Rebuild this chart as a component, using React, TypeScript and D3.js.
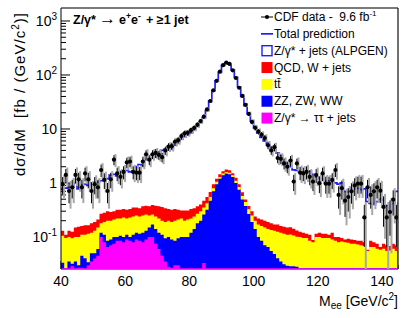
import React from "react";
import * as d3 from "d3";

// Bin lower edges (1 GeV/c^2 bins, 40 - 145)
const massBins: number[] = d3.range(40, 145);
const xTicks = [40, 60, 80, 100, 120, 140];
const yMajor = [0.1, 1, 10, 100, 1000];

// CDF data (fb / GeV/c^2)
const dataValues = [
  0.95, 1.41, 0.71, 0.83, 1.41, 1.17, 0.83, 1.5, 1.17, 0.71,
  0.95, 0.83, 1.74, 1.14, 0.71, 1.17, 2.7, 1.5, 1.3, 1.6,
  2.4, 2.5, 1.6, 1.55, 1.55, 2.5, 3.4, 2.7, 3.4, 3.6,
  3.3, 3.0, 4.0, 4.7, 4.8, 5.8, 6.2, 7.4, 8.3, 8.5,
  9.5, 10.5, 12, 14, 17, 23, 33, 52, 78, 115,
  152, 170, 160, 122, 88, 58, 41, 28, 19, 13.5,
  10.5, 8.9, 7.8, 6.8, 5.0, 4.0, 4.6, 2.9, 2.8, 2.3,
  2.0, 2.6, 1.06, 2.3, 1.55, 1.5, 1.6, 1.3, 1.06, 1.4,
  0.99, 1.5, 0.97, 0.97, 1.14, 1.74, 0.6, 0.8, 0.47, 0.55,
  0.7, 0.9, 0.97, 0.97, 0.23, 0.83, 0.6, 0.7, 0.83, 0.72,
  0.36, 0.23, 0.29, 0.49, 0.23,
];

// Total prediction
const totalPrediction = [
  0.76, 0.8, 0.83, 0.85, 1.0, 0.78, 0.92, 0.95, 0.9, 1.0,
  1.02, 1.05, 1.1, 1.2, 1.2, 1.4, 1.45, 1.35, 1.3, 1.55,
  1.7, 1.6, 1.65, 2.0, 2.2, 2.1, 2.7, 2.8, 2.9, 3.0,
  3.5, 4.0, 4.2, 4.1, 4.4, 5.0, 5.8, 6.5, 7.2, 7.8,
  8.5, 9.8, 11.5, 13.5, 16, 22, 33, 52, 78, 112,
  150, 168, 158, 125, 90, 60, 40, 27, 19, 14,
  10.5, 8.5, 7.0, 6.0, 5.2, 4.6, 4.0, 3.6, 3.2, 2.4,
  2.3, 2.0, 1.75, 1.7, 1.6, 1.6, 1.55, 1.65, 1.45, 1.3,
  1.2, 1.2, 1.1, 1.1, 1.05, 1.0, 0.95, 1.0, 0.7, 0.68,
  0.8, 0.78, 0.8, 0.75, 0.78, 0.45, 0.42, 0.4, 0.45, 0.5,
  0.48, 0.38, 0.3, 0.42, 0.7,
];

// Z/gamma* -> tau tau + jets
const zttValues = [
  0.0262, 0.0262, 0.0262, 0.029, 0.0262, 0.027, 0.027, 0.0262, 0.03, 0.035,
  0.04, 0.045, 0.1, 0.08, 0.065, 0.07, 0.075, 0.085, 0.085, 0.08,
  0.09, 0.085, 0.08, 0.09, 0.085, 0.08, 0.09, 0.1, 0.1, 0.075,
  0.06, 0.045, 0.035, 0.028, 0.027, 0.03, 0.03, 0.0262, 0.0262, 0.0262,
  0.0262, 0.0262, 0.0262, 0.0262, 0.033, 0.0262, 0.0262, 0.0262, 0.0262, 0.0262,
  0.0262, 0.0262, 0.0262, 0.0262, 0.0262, 0.0262, 0.0262, 0.0262, 0.0262, 0.0262,
  0.0262, 0.0262, 0.0262, 0.0262, 0.0262, 0.0262, 0.0262, 0.0262, 0.0262, 0.0262,
  0.0262, 0.0262, 0.0262, 0.0262, 0.0262, 0.0262, 0.0262, 0.0262, 0.0262, 0.0262,
  0.0262, 0.0262, 0.0262, 0.0262, 0.0262, 0.0262, 0.0262, 0.0262, 0.0262, 0.0262,
  0.0262, 0.0262, 0.0262, 0.0262, 0.0262, 0.0262, 0.0262, 0.0262, 0.0262, 0.0262,
  0.0262, 0.0262, 0.0262, 0.0262, 0.0262,
];

// ZZ, ZW, WW
const dibosonValues = [
  0.007, 0, 0.009, 0.003, 0.009, 0.003, 0.018, 0.014, 0.004, 0.015,
  0.01, 0.015, 0.02, 0.03, 0.02, 0.02, 0.025, 0.015, 0.02, 0.02,
  0.02, 0.015, 0.03, 0.03, 0.03, 0.04, 0.04, 0.05, 0.07, 0.065,
  0.06, 0.065, 0.06, 0.072, 0.063, 0.055, 0.065, 0.074, 0.074, 0.074,
  0.094, 0.114, 0.154, 0.174, 0.227, 0.294, 0.444, 0.674, 0.924, 1.17,
  1.37, 1.47, 1.42, 1.27, 0.97, 0.72, 0.47, 0.35, 0.24, 0.164,
  0.114, 0.074, 0.059, 0.044, 0.039, 0.029, 0.022, 0.014, 0.009, 0.005,
  0.003, 0.0025, 0.0025, 0.002, 0, 0, 0, 0, 0, 0,
  0, 0, 0, 0, 0, 0, 0, 0, 0, 0,
  0, 0, 0, 0, 0, 0, 0, 0, 0, 0,
  0, 0, 0, 0, 0,
];

// t tbar
const ttbarValues = [
  0.072, 0.069, 0.065, 0.063, 0.065, 0.07, 0.065, 0.07, 0.081, 0.07,
  0.08, 0.09, 0.06, 0.08, 0.115, 0.11, 0.11, 0.12, 0.115, 0.13,
  0.11, 0.13, 0.13, 0.13, 0.125, 0.13, 0.13, 0.1, 0.09, 0.1,
  0.1, 0.09, 0.095, 0.1, 0.1, 0.115, 0.115, 0.12, 0.1, 0.11,
  0.1, 0.1, 0.09, 0.1, 0.09, 0.1, 0.08, 0.1, 0.1, 0.1,
  0.1, 0.1, 0.1, 0.1, 0.1, 0.1, 0.08, 0.07, 0.06, 0.06,
  0.06, 0.07, 0.075, 0.08, 0.075, 0.08, 0.082, 0.085, 0.085, 0.084,
  0.081, 0.082, 0.078, 0.073, 0.074, 0.069, 0.069, 0.059, 0.054, 0.074,
  0.074, 0.069, 0.069, 0.069, 0.064, 0.059, 0.054, 0.056, 0.054, 0.052,
  0.049, 0.049, 0.046, 0.044, 0.042, 0.029, 0.039, 0.039, 0.034, 0.032,
  0.034, 0.029, 0.03, 0.034, 0.029,
];

// QCD, W + jets
const qcdValues = [
  0.025, 0.015, 0.03, 0.03, 0.05, 0.055, 0.05, 0.055, 0.05, 0.06,
  0.06, 0.06, 0.09, 0.09, 0.1, 0.09, 0.09, 0.1, 0.1, 0.1,
  0.1, 0.1, 0.11, 0.1, 0.1, 0.12, 0.12, 0.12, 0.13, 0.14,
  0.15, 0.16, 0.15, 0.13, 0.13, 0.13, 0.11, 0.09, 0.11, 0.1,
  0.11, 0.1, 0.1, 0.1, 0.12, 0.13, 0.13, 0.15, 0.15, 0.15,
  0.15, 0.18, 0.17, 0.12, 0.15, 0.1, 0.1, 0.05, 0.05, 0.05,
  0.04, 0.05, 0.05, 0.05, 0.05, 0.045, 0.04, 0.045, 0.04, 0.04,
  0.04, 0.04, 0.035, 0.03, 0.025, 0.025, 0.02, 0.025, 0.008, 0.015,
  0.02, 0.02, 0.02, 0.015, 0.03, 0.015, 0.02, 0.013, 0.01, 0.014,
  0.015, 0.013, 0.013, 0.015, 0.012, 0.003, 0.02, 0.015, 0.015, 0.007,
  0.015, 0.015, 0.012, 0.015, 0.015,
];

const layerKeys = ["ztt", "dib", "tt", "qcd"];
const layerColors: Record<string, string> = {
  ztt: "#ff00ff",
  dib: "#0000ff",
  tt: "#ffff00",
  qcd: "#ff0000",
};

const legendEntries = [
  { kind: "data", label: "CDF data -  9.6 fb", sup: "-1" },
  { kind: "line", label: "Total prediction" },
  { kind: "open", label: "Z/γ* + jets (ALPGEN)" },
  { kind: "fill", color: "#ff0000", label: "QCD, W + jets" },
  { kind: "fill", color: "#ffff00", label: "tt̄" },
  { kind: "fill", color: "#0000ff", label: "ZZ, ZW, WW" },
  { kind: "fill", color: "#ff00ff", label: "Z/γ* → ττ + jets" },
];

const FONT = "'Liberation Sans', Arial, Helvetica, sans-serif";
const W = 411;
const H = 318;
const L = 61, R = 398, T = 8, B = 269;
const LINE_BLUE = "#1e1eff";

export default function App() {
  const x = d3.scaleLinear().domain([40, 145]).range([L, R]);
  const y = d3.scaleLog().domain([0.0255, 1740]).range([B, T]);
  const yc = (v: number) => (v <= 0.0255 ? B : Math.max(T - 4, y(v)));

  const rows = massBins.map((m, i) => ({
    m,
    ztt: zttValues[i] ?? 0,
    dib: dibosonValues[i] ?? 0,
    tt: ttbarValues[i] ?? 0,
    qcd: qcdValues[i] ?? 0,
  }));
  const series = d3.stack<any>().keys(layerKeys)(rows);
  const edges = [...massBins, 145];

  const area = d3
    .area<[number, number]>()
    .x((_, i) => x(edges[i]))
    .y0(B)
    .y1((d) => yc(d[1]))
    .curve(d3.curveStepAfter);

  const totalLine = d3
    .line<number>()
    .x((_, i) => x(edges[i]))
    .y((v) => yc(v))
    .curve(d3.curveStepAfter);
  const totalPts = [...totalPrediction, totalPrediction[totalPrediction.length - 1]];

  const yMinor: number[] = [];
  for (let d = -2; d <= 3; d++) {
    for (let k = 2; k <= 9; k++) {
      const v = k * Math.pow(10, d);
      if (v > 0.0255 && v < 1740) yMinor.push(v);
    }
  }
  const xMinor = d3.range(40, 146, 5).filter((v) => v % 20 !== 0);

  const yLabel = (v: number) => {
    if (v === 1) return <tspan>1</tspan>;
    if (v === 10) return <tspan>10</tspan>;
    const e = Math.round(Math.log10(v));
    return (
      <>
        <tspan>10</tspan>
        <tspan dy={-6} fontSize={10}>{String(e)}</tspan>
      </>
    );
  };

  const legY = (i: number) => 17 + i * 16.85;

  return (
    <svg
      width={W}
      height={H}
      style={{ position: "absolute", left: 0, top: 0, background: "#fff" }}
      fontFamily={FONT}
    >
      <defs>
        <clipPath id="plotclip">
          <rect x={L} y={T} width={R - L} height={B - T} />
        </clipPath>
      </defs>
      <rect x={0} y={0} width={W} height={H} fill="#fff" />

      {/* axis ticks (drawn under fills) */}
      {yMajor.map((v) => (
        <line key={"ym" + v} x1={L} x2={L + 9} y1={y(v)} y2={y(v)} stroke="#000" strokeWidth={1} />
      ))}
      {yMinor.map((v) => (
        <line key={"yn" + v} x1={L} x2={L + 5} y1={y(v)} y2={y(v)} stroke="#000" strokeWidth={1} />
      ))}
      {xTicks.map((v) => (
        <line key={"xm" + v} x1={x(v)} x2={x(v)} y1={B} y2={B - 8} stroke="#000" />
      ))}
      {xMinor.map((v) => (
        <line key={"xn" + v} x1={x(v)} x2={x(v)} y1={B} y2={B - 4} stroke="#000" />
      ))}
      <line x1={L} x2={R} y1={B} y2={B} stroke="#000" />

      {/* stacked backgrounds */}
      <g clipPath="url(#plotclip)">
        {series
          .slice()
          .reverse()
          .map((s) => {
            const pts = [...s.map((d) => [d[0], d[1]] as [number, number])];
            pts.push(pts[pts.length - 1]);
            return (
              <path key={s.key} d={area(pts) || ""} fill={layerColors[s.key]} stroke="none" />
            );
          })}

        {/* total prediction */}
        <path d={totalLine(totalPts) || ""} fill="none" stroke={LINE_BLUE} strokeWidth={1.7} />

        {/* data: grey (total) and black (stat) error bars */}
        {dataValues.map((v, i) => {
          const cx = x(massBins[i] + 0.5);
          const err = Math.sqrt(v / 8.5);
          const eg = err * 1.3;
          return (
            <g key={"d" + i}>
              <line
                x1={cx + 1.5}
                x2={cx + 1.5}
                y1={yc(v + eg)}
                y2={yc(Math.max(v - eg, v * 0.04))}
                stroke="#a8a8a8"
                strokeWidth={2}
              />
              <line
                x1={cx}
                x2={cx}
                y1={yc(v + err)}
                y2={yc(Math.max(v - err, v * 0.05))}
                stroke="#000"
                strokeWidth={1}
              />
              <circle cx={cx} cy={y(v)} r={2.1} fill="#000" />
            </g>
          );
        })}
      </g>

      {/* frame */}
      <line x1={L} x2={R} y1={T} y2={T} stroke="#7a7a7a" strokeWidth={2.2} />
      <line x1={R} x2={R} y1={T} y2={B} stroke="#111" strokeWidth={1.2} />
      <line x1={L} x2={L} y1={T} y2={B} stroke="#000" strokeWidth={1} />

      {/* y tick labels */}
      {yMajor.map((v) => (
        <text key={"yl" + v} x={57} y={y(v) + 5} textAnchor="end" fontSize={14} fill="#000">
          {yLabel(v)}
        </text>
      ))}
      {/* x tick labels */}
      {xTicks.map((v) => (
        <text key={"xl" + v} x={x(v)} y={286} textAnchor="middle" fontSize={14} fill="#000">
          {v}
        </text>
      ))}

      {/* axis titles */}
      <text x={R} y={306} textAnchor="end" fontSize={14} fill="#000">
        <tspan>M</tspan>
        <tspan dy={3} fontSize={10}>ee</tspan>
        <tspan dy={-3}> [GeV/c</tspan>
        <tspan dy={-6} fontSize={10}>2</tspan>
        <tspan dy={6}>]</tspan>
      </text>
      <text
        transform={`translate(25, 176) rotate(-90)`}
        textAnchor="start"
        fontSize={15}
        fill="#000"
        textLength={163}
        lengthAdjust="spacing"
        style={{ whiteSpace: "pre" }}
      >
        <tspan>dσ/dM  [fb / (GeV/c</tspan>
        <tspan dy={-6} fontSize={10}>2</tspan>
        <tspan dy={6}>)]</tspan>
      </text>

      {/* plot title */}
      <g fill="#000" fontWeight="bold" fontSize={12.5}>
        <text x={73} y={24}>Z/γ*</text>
        <text x={99} y={24} fontWeight="normal" fontSize={17}>→</text>
        <text x={119} y={24}>
          <tspan>e</tspan>
          <tspan dy={-5} fontSize={8.5}>+</tspan>
          <tspan dy={5}>e</tspan>
          <tspan dy={-5} fontSize={8.5}>-</tspan>
        </text>
        <text x={146} y={24} style={{ whiteSpace: "pre" }}>+ ≥1 jet</text>
      </g>

      {/* legend */}
      {legendEntries.map((e, i) => {
        const cy = legY(i);
        let marker: React.ReactNode = null;
        if (e.kind === "data") {
          marker = (
            <g>
              <line x1={261} x2={273} y1={cy} y2={cy} stroke="#000" />
              <circle cx={267} cy={cy} r={2.1} fill="#000" />
            </g>
          );
        } else if (e.kind === "line") {
          marker = <line x1={261} x2={273} y1={cy} y2={cy} stroke={LINE_BLUE} strokeWidth={1.7} />;
        } else if (e.kind === "open") {
          marker = (
            <rect x={262} y={cy - 5} width={10} height={10} fill="#fff" stroke={LINE_BLUE} strokeWidth={1.4} />
          );
        } else {
          marker = <rect x={261.5} y={cy - 5.5} width={11} height={11} fill={e.color} />;
        }
        return (
          <g key={"lg" + i}>
            {marker}
            <text x={274} y={cy + 4} fontSize={12} fill="#000" style={{ whiteSpace: "pre" }}>
              <tspan>{e.label}</tspan>
              {e.sup ? (
                <tspan dy={-5} fontSize={8}>
                  {e.sup}
                </tspan>
              ) : null}
            </text>
          </g>
        );
      })}
    </svg>
  );
}
